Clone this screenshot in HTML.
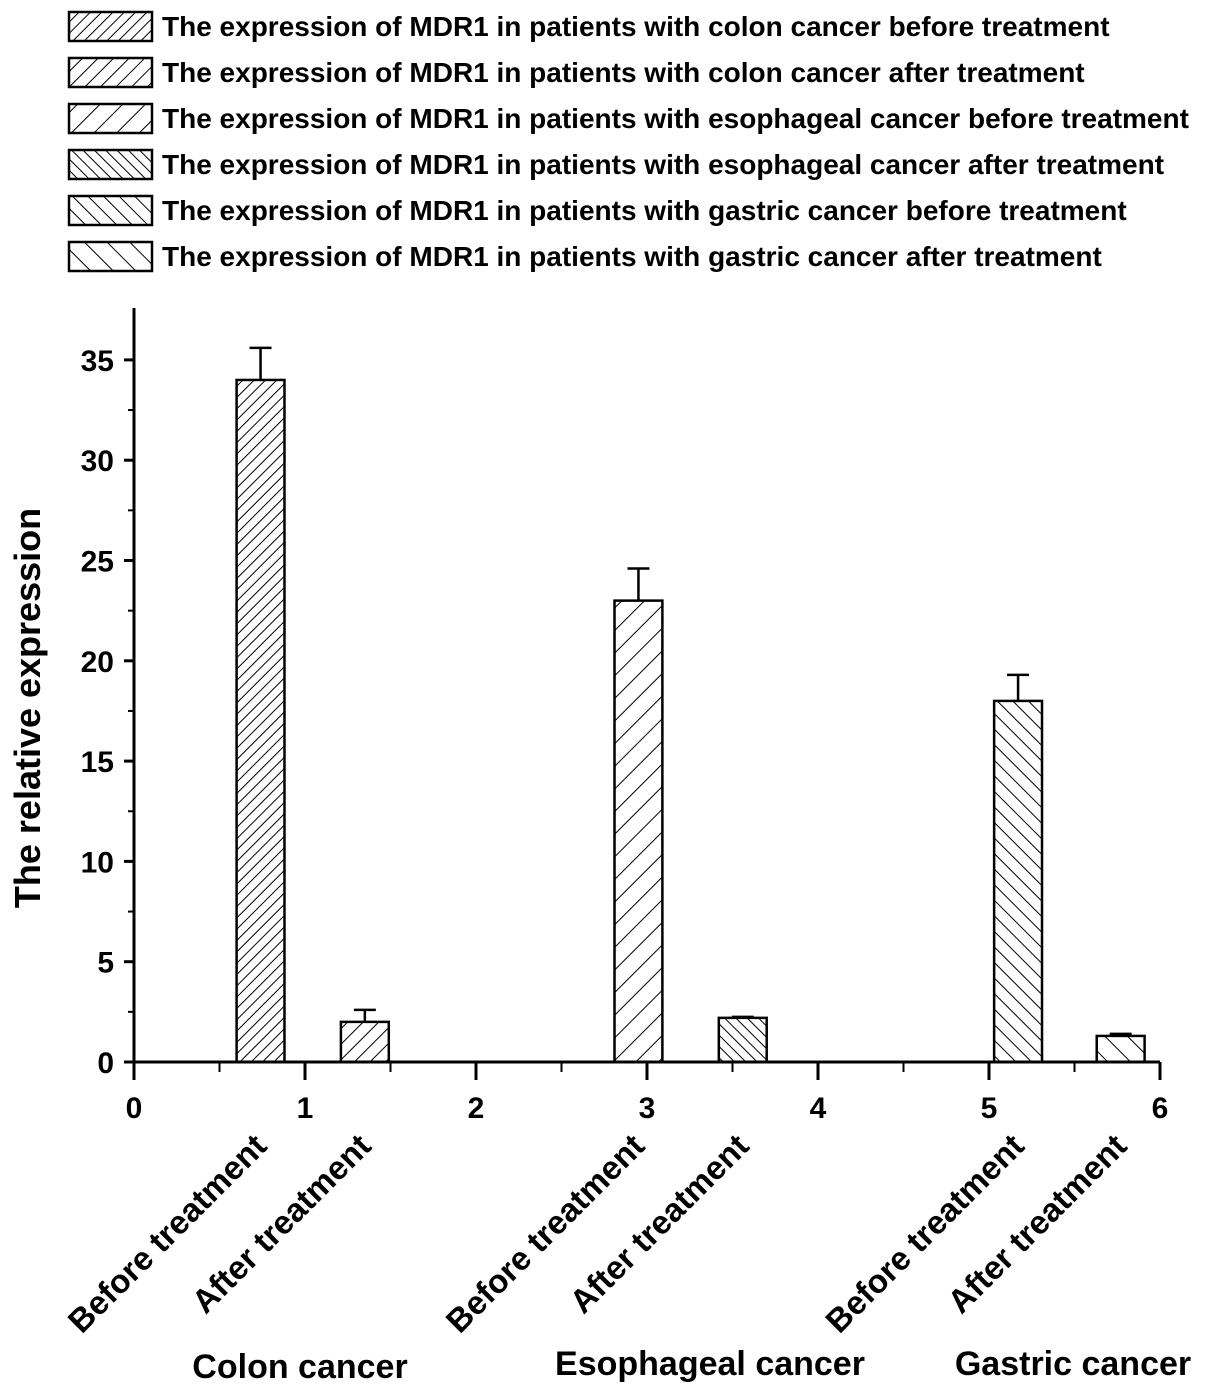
<!DOCTYPE html>
<html><head><meta charset="utf-8"><style>
body{margin:0;background:#fff}
svg{display:block;font-family:"Liberation Sans",Arial,sans-serif;font-weight:bold}
</style></head><body>
<svg id="chart" width="1205" height="1396" viewBox="0 0 1205 1396">
<defs>
<pattern id="p0" patternUnits="userSpaceOnUse" width="8" height="8" patternTransform="rotate(45)"><line x1="0" y1="0" x2="0" y2="8" stroke="#000" stroke-width="2"/></pattern>
<pattern id="p1" patternUnits="userSpaceOnUse" width="11" height="11" patternTransform="rotate(45)"><line x1="0" y1="0" x2="0" y2="11" stroke="#000" stroke-width="2"/></pattern>
<pattern id="p2" patternUnits="userSpaceOnUse" width="16" height="16" patternTransform="rotate(45)"><line x1="0" y1="0" x2="0" y2="16" stroke="#000" stroke-width="2"/></pattern>
<pattern id="p3" patternUnits="userSpaceOnUse" width="8" height="8" patternTransform="rotate(-45)"><line x1="0" y1="0" x2="0" y2="8" stroke="#000" stroke-width="2"/></pattern>
<pattern id="p4" patternUnits="userSpaceOnUse" width="11" height="11" patternTransform="rotate(-45)"><line x1="0" y1="0" x2="0" y2="11" stroke="#000" stroke-width="2"/></pattern>
<pattern id="p5" patternUnits="userSpaceOnUse" width="16" height="16" patternTransform="rotate(-45)"><line x1="0" y1="0" x2="0" y2="16" stroke="#000" stroke-width="2"/></pattern>
</defs>
<g id="legend"></g>
<g id="axes"></g>
<g id="bars"></g>
<text transform="translate(40,708) rotate(-90)" text-anchor="middle" font-size="36">The relative expression</text>
<text x="300" y="1378" text-anchor="middle" font-size="34">Colon cancer</text>
<text x="710" y="1375" text-anchor="middle" font-size="34">Esophageal cancer</text>
<text x="1073" y="1375" text-anchor="middle" font-size="34">Gastric cancer</text>
</svg>
<script>
const positions = [0.74, 1.35, 2.95, 3.56, 5.17, 5.77];
const values = [34, 2, 23, 2.2, 18, 1.3];
const errors = [1.6, 0.6, 1.6, 0.05, 1.3, 0.1];
const barLabels = ["Before treatment","After treatment","Before treatment","After treatment","Before treatment","After treatment"];
const legendLabels = [
"The expression of MDR1 in patients with colon cancer before treatment",
"The expression of MDR1 in patients with colon cancer after treatment",
"The expression of MDR1 in patients with esophageal cancer before treatment",
"The expression of MDR1 in patients with esophageal cancer after treatment",
"The expression of MDR1 in patients with gastric cancer before treatment",
"The expression of MDR1 in patients with gastric cancer after treatment"];
const xTicks = [0,1,2,3,4,5,6];
const yTicks = [0,5,10,15,20,25,30,35];
const NS="http://www.w3.org/2000/svg";
const X0=134, XS=171, Y0=1062, YS=20.06, BW=0.28;
const sx=v=>X0+v*XS, sy=v=>Y0-v*YS;
function mk(t,a,p){const e=document.createElementNS(NS,t);for(const k in a)e.setAttribute(k,a[k]);p.appendChild(e);return e;}
const lg=document.getElementById('legend');
legendLabels.forEach((l,i)=>{
 const y=12+i*46;
 const r=mk('rect',{x:69,y:y,width:83,height:29,fill:'url(#p'+i+')',stroke:'#000','stroke-width':2.5},lg);
 
 
 const t=mk('text',{x:162,y:y+24,'font-size':28},lg);t.textContent=l;
 
 
});
const ax=document.getElementById('axes');
mk('line',{x1:sx(0),y1:308,x2:sx(0),y2:sy(0),stroke:'#000','stroke-width':3},ax);
mk('line',{x1:sx(0)-10,y1:sy(0),x2:sx(6),y2:sy(0),stroke:'#000','stroke-width':3},ax);
yTicks.forEach(v=>{
 mk('line',{x1:sx(0)-10,y1:sy(v),x2:sx(0),y2:sy(v),stroke:'#000','stroke-width':3},ax);
 if(v<35)mk('line',{x1:sx(0)-6,y1:sy(v+2.5),x2:sx(0),y2:sy(v+2.5),stroke:'#000','stroke-width':2},ax);
 const t=mk('text',{x:sx(0)-20,y:sy(v)+11,'text-anchor':'end','font-size':30},ax);t.textContent=v;
 
 
});
xTicks.forEach(v=>{
 mk('line',{x1:sx(v),y1:sy(0),x2:sx(v),y2:sy(0)+18,stroke:'#000','stroke-width':3},ax);
 if(v<6)mk('line',{x1:sx(v+0.5),y1:sy(0),x2:sx(v+0.5),y2:sy(0)+10,stroke:'#000','stroke-width':2},ax);
 const t=mk('text',{x:sx(v),y:sy(0)+56,'text-anchor':'middle','font-size':30},ax);t.textContent=v;
 
 
});
const bg=document.getElementById('bars');
positions.forEach((p,i)=>{
 const x=sx(p-BW/2),w=BW*XS,y=sy(values[i]);
 const ey=sy(values[i]+errors[i]);
 const cx=sx(p);
 const e=mk('path',{d:`M${cx},${y} V${ey} M${cx-11},${ey} H${cx+11}`,stroke:'#000','stroke-width':2.5,fill:'none'},bg);
 
 
 const r=mk('rect',{x:x,y:y,width:w,height:sy(0)-y,fill:'url(#p'+i+')',stroke:'#000','stroke-width':2.5},bg);
 
 
 const t=mk('text',{transform:`translate(${cx+8},${1148}) rotate(-45)`,'text-anchor':'end','font-size':33},bg);
 t.textContent=barLabels[i];
 
 
});
</script>
</body></html>
